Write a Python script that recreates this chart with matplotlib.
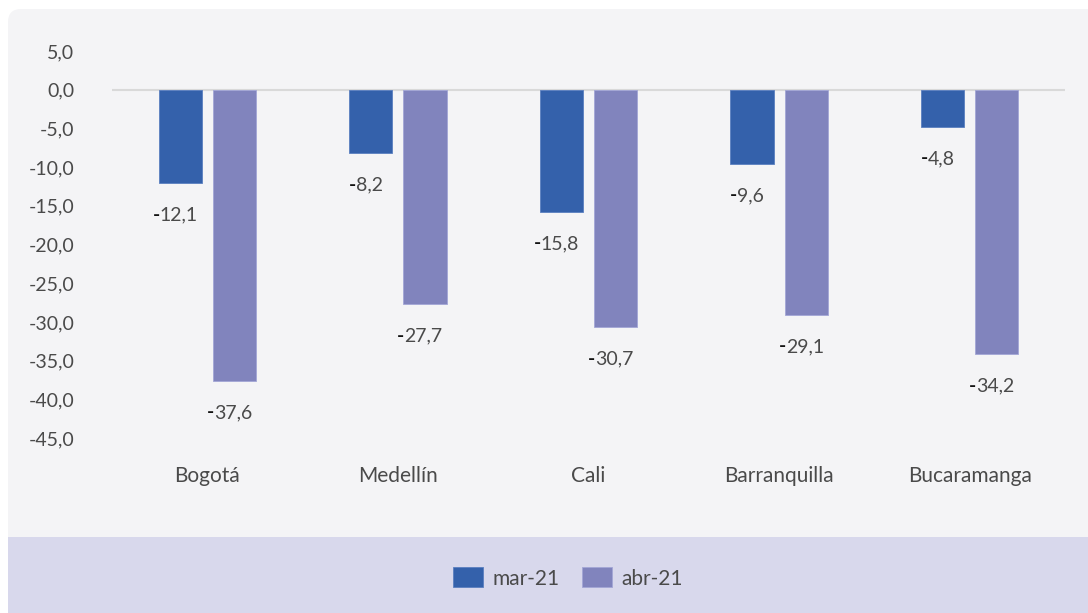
import matplotlib as mpl
import numpy as np

mpl.use("Agg")
from matplotlib import pyplot as plt
from matplotlib.patches import FancyBboxPatch, Rectangle, Patch

cities = ["Bogotá", "Medellín", "Cali", "Barranquilla", "Bucaramanga"]
mar21 = [-12.1, -8.2, -15.8, -9.6, -4.8]
abr21 = [-37.6, -27.7, -30.7, -29.1, -34.2]
series_names = ["mar-21", "abr-21"]
yticks = [5, 0, -5, -10, -15, -20, -25, -30, -35, -40, -45]

c_mar = "#3461ab"
c_abr = "#8184bd"
txt = "#4a4a4a"

plt.rcParams["font.family"] = ["Lato", "DejaVu Sans"]

W, H = 1088, 613
fig = plt.figure(figsize=(W / 100, H / 100), dpi=100)

# background panel + legend strip
fig.patches.append(FancyBboxPatch((8 / W, 40 / H), 1.2, 1 - 49 / H,
                                  boxstyle="round,pad=0,rounding_size=0.012",
                                  transform=fig.transFigure, facecolor="#f4f4f6",
                                  edgecolor="none", zorder=-2, mutation_aspect=W / H))
fig.patches.append(Rectangle((8 / W, 0), 1.0, 76 / H, transform=fig.transFigure,
                             facecolor="#d8d8ec", edgecolor="none", zorder=-1))

ax = fig.add_axes([112 / W, 1 - 438 / H, (1065 - 112) / W, (438 - 51) / H])
ax.set_facecolor("none")

x = np.arange(len(cities))
bw = 0.226
off = 0.142
b1 = ax.bar(x - off, mar21, bw, color=c_mar, edgecolor="#5a7fc0", linewidth=0.6)
b2 = ax.bar(x + off, abr21, bw, color=c_abr, edgecolor="#a3a6d6", linewidth=0.6)

# data labels: digits in grey, minus sign darker like the original
for bars, vals in ((b1, mar21), (b2, abr21)):
    for rect, v in zip(bars, vals):
        cx = rect.get_x() + rect.get_width() / 2
        num = ax.annotate(f"{abs(v):.1f}".replace(".", ","), (cx, v), xytext=(-1, -23),
                          textcoords="offset points", ha="center", va="center",
                          fontsize=14, color=txt)
        ax.annotate("-", xy=(0, 0.5), xycoords=num, ha="right", va="center",
                    fontsize=14, color="#111111", fontweight="bold")

ax.set_xlim(-0.5, len(cities) - 0.5)
ax.set_ylim(-45, 5)
ax.axhline(0, color="#d9d9d9", linewidth=1.5, zorder=0)
ax.set_yticks(yticks)
ax.set_yticklabels([f"{t:.1f}".replace(".", ",") for t in yticks])
ax.set_xticks(x)
ax.set_xticklabels(cities)
ax.tick_params(axis="y", length=0, pad=27, labelsize=14, labelcolor=txt)
ax.tick_params(axis="x", length=0, pad=20, labelsize=15, labelcolor=txt)
for s in ax.spines.values():
    s.set_visible(False)

handles = [Patch(facecolor=c_mar, edgecolor="#5a7fc0", linewidth=0.6),
           Patch(facecolor=c_abr, edgecolor="#a3a6d6", linewidth=0.6)]
fig.legend(handles, series_names, loc="center", bbox_to_anchor=(568 / W, 1 - 578 / H),
           ncol=2, frameon=False, fontsize=15, labelcolor=txt,
           handlelength=1.45, handleheight=1.1, handletextpad=0.45, columnspacing=1.1)

fig.savefig("out.png", dpi=100, facecolor="white")
